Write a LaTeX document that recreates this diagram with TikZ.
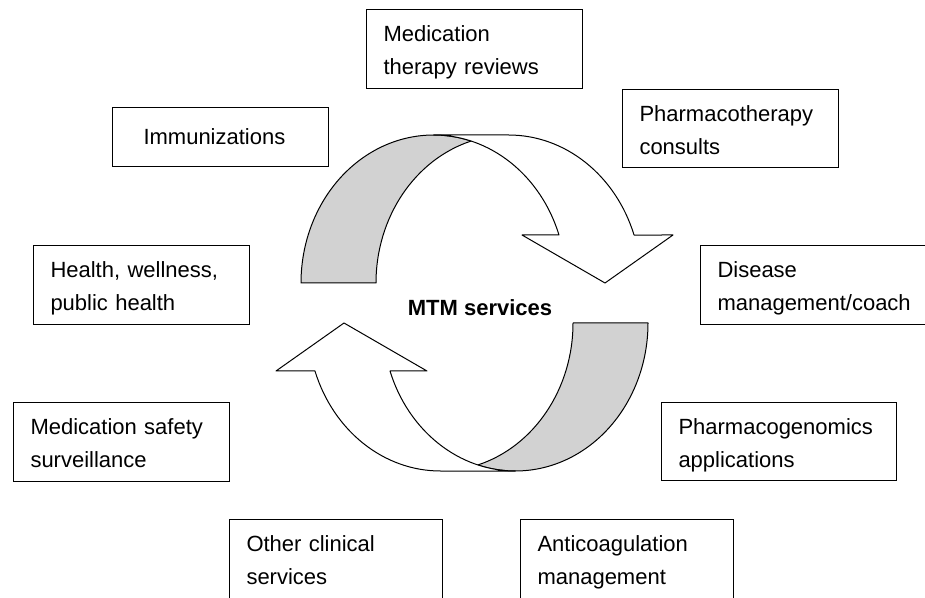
\documentclass[tikz,border=0pt]{standalone}
\usepackage{fontspec}
\setmainfont{Liberation Sans}
\usetikzlibrary{positioning}

\begin{document}
\begin{tikzpicture}[x=1pt ,y=1pt ,
    font=\fontsize{22}{33}\selectfont ,
    box/.style ={ rectangle ,draw ,line width=1pt ,anchor=north west ,
      inner xsep=17pt ,inner ysep=0pt ,align=left ,
      text width=182pt ,text height=32pt ,text depth=47pt},
    band/.style ={draw ,line width=1pt ,line join=round ,
      x radius=132.6pt ,y radius=148pt},
    back/.style ={band ,fill=gray!35},
    front/.style ={band ,fill=white}
    ]
    \useasboundingbox (0,0) rectangle (925,597);
    % the service boxes
    \node[box] (reviews) at (366,588) {Medication\\therapy reviews};
    \node[box ,text width=154pt ,inner xsep=31pt ,text height=37pt ,text depth=22pt] (immun) at (112,490) {Immunizations};
    \node[box ,text depth=46pt] (consults) at (622,508) {Pharmacotherapy\\consults};
    \node[box] (health) at (33,352) {Health, wellness,\\public health};
    \node[box ,text width=206pt] (disease) [right=450pt of health] {Disease\\management/coach};
    \node[box] (safety) at (13,195) {Medication safety\\surveillance};
    \node[box ,text width=201pt ,text depth=46pt] (genomics) at (661,195) {Pharmacogenomics\\applications};
    \node[box ,text width=179pt] (clinical) at (229,78) {Other clinical\\services};
    \node[box ,text width=179pt] (anticoag) [right=77pt of clinical] {Anticoagulation\\management};
    \node[font=\fontsize{22}{33}\selectfont\bfseries ,anchor=base] (mtm) at (480,281) {MTM services};
    % two curved arrows, the lower one turned half round
    \foreach \r in {0,180}
    { \begin{scope}[rotate around={\r:(474.5,294)}]
      \draw[back] (301,314) arc[start angle=180 ,end angle=73.57]
        arc[start angle=106.43 ,end angle=180] -- cycle;
      \draw[front] (433.6,462) -- (508.6,462) arc[start angle=90 ,end angle=18.92]
        -- (673,362) -- (605,314) -- (522,362) -- (559,362)
        arc[start angle=18.92 ,end angle=90] -- cycle;
      \end{scope} }
\end{tikzpicture}
\end{document}
